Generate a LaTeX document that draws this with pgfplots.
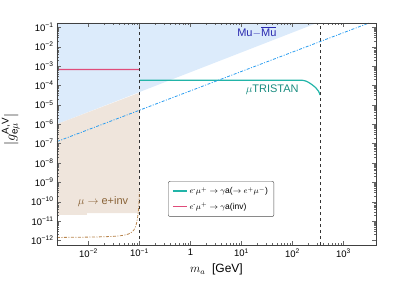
\documentclass[border=0pt]{standalone}
\usepackage{fontspec}
\setmainfont{Liberation Sans}
\usepackage{amsmath}
\usepackage{pgfplots}
\pgfplotsset{compat=1.18}
\definecolor{mufill}{HTML}{DCEBFB}
\definecolor{beigefill}{HTML}{EFE5DC}
\definecolor{mmteal}{HTML}{22B4A8}
\definecolor{mmtealtext}{HTML}{1A8C80}
\definecolor{mmred}{HTML}{E04C7A}
\definecolor{mmblue}{HTML}{2A9DF0}
\definecolor{mmbrown}{HTML}{B8844C}
\definecolor{mmbrowntext}{HTML}{8A6438}
\definecolor{mutext}{HTML}{2A2AB0}
\newcommand{\tp}[1]{10\textsuperscript{#1}}
\pgfplotsset{my legend line/.style={legend image code/.code={\draw[##1] (0pt,0.3pt) -- (14pt,0.3pt);}}}
\begin{document}
\begin{tikzpicture}
\begin{axis}[
  scale only axis, width=319pt, height=222pt,
  xmode=log, ymode=log,
  xmin=0.00241, xmax=4340, ymin=5.75e-13, ymax=0.166,
  xtick={0.01,0.1,1,10,100,1000},
  xticklabels={\tp{−2},\tp{−1},1,\tp{1},\tp{2},\tp{3}},
  ytick={1e-12,1e-11,1e-10,1e-9,1e-8,1e-7,1e-6,1e-5,1e-4,1e-3,1e-2,1e-1},
  yticklabels={\tp{−12},\tp{−11},\tp{−10},\tp{−9},\tp{−8},\tp{−7},\tp{−6},\tp{−5},\tp{−4},\tp{−3},\tp{−2},\tp{−1}},
  tick align=inside,
  axis on top,
  axis line style={black!75},
  tick style={black!60},
  major tick length=4pt, minor tick length=2pt,
  ticklabel style={font=\fontsize{9.5}{10}\selectfont},
  xlabel={$m_a$\ \ [GeV]},
  xlabel style={at={(axis description cs:0.5,-0.11)}, anchor=center, font=\fontsize{12}{13}\selectfont},
  ylabel={$|g^{\text{A,V}}_{\text{e}\mu}|$},
  ylabel style={at={(axis description cs:-0.145,0.52)}, anchor=center, font=\fontsize{14}{15}\selectfont},
  legend style={at={(rel axis cs:0.348,0.288)}, anchor=north west, draw=black!70, rounded corners=2pt,
    font=\fontsize{8.5}{10}\selectfont, inner xsep=4pt, inner ysep=4pt, row sep=3pt},
  legend cell align=left,
  my legend line,
]
% Mu-Mubar region
\addplot[fill=mufill, draw=none, forget plot] coordinates {(0.00241,1e-6) (302,0.166) (0.00241,0.166) (0.00241,1e-6)};
% mu -> e + inv region
\addplot[fill=beigefill, draw=none, forget plot] coordinates {(0.00241,1e-6) (0.1,4.2e-5) (0.1,2.57e-11) (0.0093,2.57e-11) (0.0093,2.04e-11) (0.00241,2.04e-11) (0.00241,1e-6)};
% red line
\addplot[color=mmred, line width=1.3pt, forget plot] coordinates {(0.00245,6.55e-4) (0.03,6.58e-4) (0.1,6.6e-4)};
% teal line
\addplot[color=mmteal, line width=1.2pt] coordinates {
(0.1,1.86e-4) (120,1.86e-4) (140,1.855e-4) (153.5,1.84e-4) (165,1.79e-4) (184,1.66e-4) (200,1.5e-4) (220,1.29e-4) (240,1.1e-4) (263,9.1e-5) (285,7.6e-5) (302,6.3e-5) (320,5.2e-5) (331,4.47e-5) (340,3.8e-5) (346,3.16e-5)};
\addlegendentry{$e^{\text{-}}\mu^+\rightarrow\gamma$a($\rightarrow e^+\mu^-$)}
\addlegendimage{color=mmred, line width=1.3pt}
\addlegendentry{$e^{\text{-}}\mu^+\rightarrow\gamma$a(inv)}
% vertical dashed lines
\addplot[black!80, dashed, forget plot] coordinates {(0.1,5.75e-13) (0.1,0.166)};
\addplot[black!80, dashed, forget plot] coordinates {(346,5.75e-13) (346,0.166)};
% blue dash-dot
\addplot[draw=mmblue, dash pattern=on 3pt off 1.5pt on 1pt off 1.5pt, thick, forget plot] coordinates {(0.00241,1.26e-7) (3160,0.166)};
% brown dash-dot
\addplot[draw=mmbrown, dash pattern=on 3pt off 1.5pt on 1pt off 1.5pt, thick, forget plot] coordinates {
(0.00241,1.41e-12) (0.01,1.47e-12) (0.02,1.53e-12) (0.03,1.6e-12) (0.04,1.7e-12) (0.05,1.85e-12) (0.06,2.1e-12) (0.066,2.35e-12) (0.072,2.8e-12) (0.078,3.5e-12) (0.082,4.5e-12) (0.086,6.5e-12) (0.089,9.5e-12) (0.092,1.6e-11) (0.094,2.5e-11) (0.096,4.5e-11) (0.098,1e-10) (0.0995,3e-10)};
\node[text=mutext, font=\fontsize{11}{12}\selectfont] at (axis cs:20,0.055) {Mu$-\overline{\text{Mu}}$};
\node[text=mmtealtext, font=\fontsize{11}{12}\selectfont] at (axis cs:40,5.8e-5) {$\mu$TRISTAN};
\node[text=mmbrowntext, font=\fontsize{11}{12}\selectfont] at (axis cs:0.0193,9.5e-11) {$\mu\rightarrow$ e+inv};
\end{axis}
\pgfresetboundingbox
\path[use as bounding box] (-57pt,-39pt) rectangle (342pt,245pt);
\end{tikzpicture}
\end{document}
